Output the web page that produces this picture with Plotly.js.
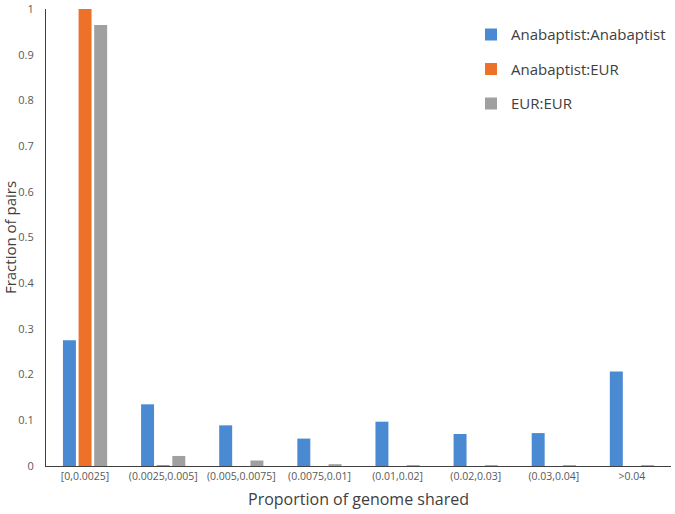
<!DOCTYPE html>
<html>
<head>
<meta charset="utf-8">
<script src="https://cdn.plot.ly/plotly-3.0.1.min.js"></script>
<style>html,body{margin:0;padding:0;background:#fff;}#chart{width:675px;height:514px;}</style>
</head>
<body>
<div id="chart"></div>
<script>
const categories = ["[0,0.0025]", "(0.0025,0.005]", "(0.005,0.0075]", "(0.0075,0.01]", "(0.01,0.02]", "(0.02,0.03]", "(0.03,0.04]", ">0.04"];
const anaAna = [0.275, 0.135, 0.089, 0.060, 0.097, 0.070, 0.072, 0.207];
const anaEur = [1.0, 0.002, 0.0, 0.0, 0.0, 0.0, 0.0, 0.0];
const eurEur = [0.965, 0.022, 0.012, 0.004, 0.002, 0.002, 0.002, 0.002];
const seriesNames = ["Anabaptist:Anabaptist", "Anabaptist:EUR", "EUR:EUR"];
const colors = ["#4A8AD3", "#ED7128", "#A0A0A0"];
const yTicks = [0, 0.1, 0.2, 0.3, 0.4, 0.5, 0.6, 0.7, 0.8, 0.9, 1];

const font = "Open Sans, Lato, sans-serif";
const data = [anaAna, anaEur, eurEur].map((v, i) => ({
  type: "bar", x: categories, y: v, name: seriesNames[i], legendgroup: "g" + i,
  marker: {color: colors[i], line: {width: 0}}
}));
const layout = {
  width: 675, height: 514,
  margin: {l: 46, r: 4, t: 9, b: 48},
  paper_bgcolor: "#fff", plot_bgcolor: "#fff",
  barmode: "group", bargap: 0.4, bargroupgap: 0.17,
  font: {family: font, color: "#595959", size: 11},
  xaxis: {
    type: "category", showgrid: false, zeroline: false,
    showline: true, linecolor: "#404040", linewidth: 1,
    ticks: "", tickfont: {size: 10.5, color: "#595959"},
    title: {text: "Proportion of genome shared", font: {size: 16, color: "#404040"}, standoff: 12}
  },
  yaxis: {
    range: [0, 1.0002], showgrid: false, zeroline: false,
    showline: true, linecolor: "#404040", linewidth: 1,
    ticks: "", tickvals: yTicks, ticktext: yTicks.map(String),
    ticklabeloverflow: "allow",
    tickfont: {size: 11, color: "#595959"}, ticklabelstandoff: 9,
    title: {text: "Fraction of pairs", font: {size: 15, color: "#404040"}, standoff: 6}
  },
  showlegend: true,
  legend: {
    x: 1, y: 0.98, xanchor: "right", yanchor: "top",
    font: {size: 15, color: "#404040"}, tracegroupgap: 12,
    itemwidth: 30, bgcolor: "rgba(0,0,0,0)"
  }
};
Plotly.newPlot("chart", data, layout, {displayModeBar: false, staticPlot: true});
</script>
</body>
</html>
